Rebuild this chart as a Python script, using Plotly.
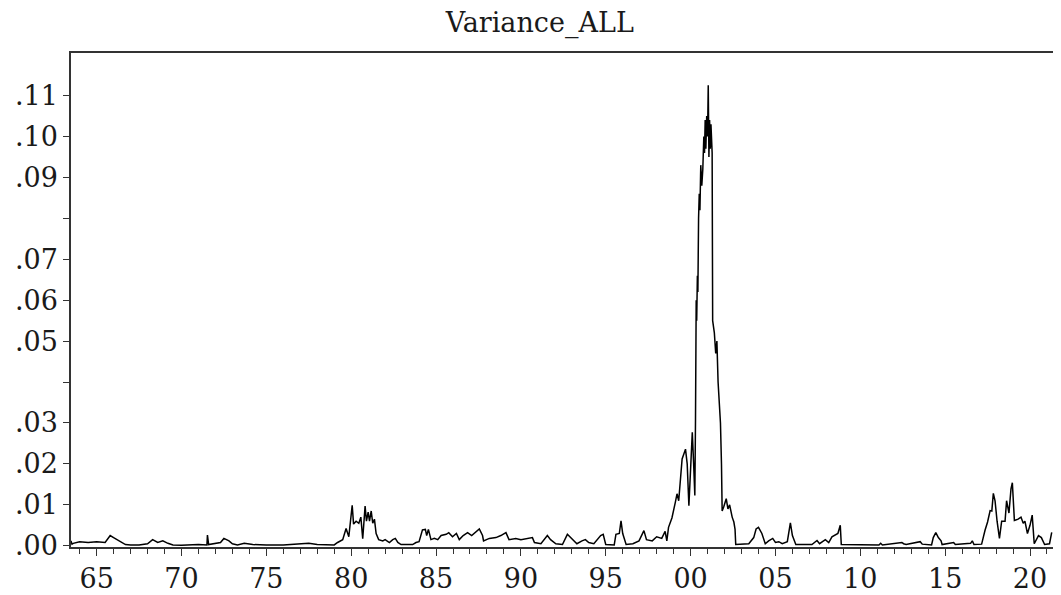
import plotly.graph_objects as go

# Decimal years and variance values
years = [
    1963.49, 1963.55, 1963.62, 1964.0, 1964.5, 1965.0, 1965.5, 1965.8, 1966.0, 1966.3,
    1966.5, 1966.7, 1967.0, 1967.5, 1968.0, 1968.3, 1968.6, 1968.9, 1969.2, 1969.5,
    1970.0, 1971.0, 1971.5, 1971.53, 1971.6, 1972.0, 1972.3, 1972.5, 1972.8, 1973.0,
    1973.3, 1973.7, 1974.2, 1975.0, 1976.0, 1977.06, 1977.5, 1978.0, 1979.0, 1979.2,
    1979.5, 1979.7, 1979.86, 1980.06, 1980.14, 1980.29, 1980.45, 1980.57, 1980.68, 1980.82,
    1980.9, 1981.0, 1981.08, 1981.18, 1981.27, 1981.37, 1981.47, 1981.62, 1981.86, 1982.0,
    1982.25, 1982.45, 1982.6, 1982.75, 1982.94, 1983.62, 1983.82, 1984.0, 1984.2, 1984.37,
    1984.45, 1984.55, 1984.7, 1984.9, 1985.1, 1985.3, 1985.6, 1985.75, 1985.97, 1986.2,
    1986.37, 1986.6, 1986.86, 1987.1, 1987.35, 1987.55, 1987.74, 1987.8, 1988.14, 1988.53,
    1988.82, 1989.12, 1989.3, 1989.7, 1990.0, 1990.3, 1990.68, 1990.8, 1991.18, 1991.56,
    1991.75, 1992.06, 1992.45, 1992.74, 1993.04, 1993.3, 1993.6, 1993.8, 1994.0, 1994.3,
    1994.7, 1994.85, 1995.0, 1995.5, 1995.6, 1995.8, 1995.9, 1996.0, 1996.2, 1996.6,
    1996.96, 1997.25, 1997.4, 1997.74, 1998.0, 1998.3, 1998.5, 1998.6, 1998.7, 1998.9,
    1999.1, 1999.2, 1999.3, 1999.4, 1999.5, 1999.7, 1999.8, 1999.9, 2000.0, 2000.1,
    2000.18, 2000.25, 2000.29, 2000.33, 2000.36, 2000.4, 2000.43, 2000.47, 2000.51, 2000.55,
    2000.6, 2000.66, 2000.72, 2000.78, 2000.82, 2000.86, 2000.9, 2000.95, 2001.0, 2001.04,
    2001.08, 2001.12, 2001.16, 2001.2, 2001.27, 2001.3, 2001.4, 2001.48, 2001.55, 2001.62,
    2001.7, 2001.76, 2001.82, 2001.86, 2001.95, 2002.1, 2002.2, 2002.3, 2002.45, 2002.55,
    2002.62, 2002.66, 2003.43, 2003.72, 2003.86, 2004.0, 2004.2, 2004.3, 2004.4, 2004.6,
    2004.84, 2005.0, 2005.2, 2005.4, 2005.7, 2005.88, 2006.0, 2006.2, 2006.96, 2007.15,
    2007.45, 2007.6, 2007.94, 2008.14, 2008.33, 2008.5, 2008.68, 2008.82, 2008.88, 2011.1,
    2011.2, 2011.3, 2012.45, 2012.55, 2012.7, 2013.53, 2013.65, 2014.2, 2014.3, 2014.45,
    2014.6, 2014.76, 2014.82, 2015.5, 2015.6, 2016.5, 2016.6, 2016.7, 2017.15, 2017.35,
    2017.5, 2017.65, 2017.75, 2017.84, 2017.94, 2018.06, 2018.2, 2018.33, 2018.53, 2018.62,
    2018.76, 2018.88, 2018.96, 2019.08, 2019.3, 2019.47, 2019.6, 2019.7, 2019.85, 2020.0,
    2020.13, 2020.25, 2020.5, 2020.67, 2020.86, 2021.15, 2021.28,
]
variance = [
    0.0012, 0.0004, 0.0006, 0.0010, 0.0008, 0.0010, 0.0008, 0.0025, 0.0020, 0.0012,
    0.0008, 0.0003, 0.0002, 0.0002, 0.0005, 0.0015, 0.0008, 0.0012, 0.0006, 0.0002,
    0.0001, 0.0003, 0.0002, 0.0026, 0.0003, 0.0006, 0.0008, 0.0018, 0.0012, 0.0005,
    0.0002, 0.0006, 0.0003, 0.0002, 0.0002, 0.0005, 0.0006, 0.0003, 0.0002, 0.0008,
    0.0015, 0.0042, 0.0022, 0.0099, 0.0053, 0.0060, 0.0055, 0.0070, 0.0017, 0.0097,
    0.0060, 0.0082, 0.0060, 0.0085, 0.0055, 0.0065, 0.0030, 0.0015, 0.0012, 0.0015,
    0.0008, 0.0015, 0.0018, 0.0008, 0.0003, 0.0003, 0.0008, 0.0010, 0.0039, 0.0040,
    0.0025, 0.0040, 0.0015, 0.0018, 0.0015, 0.0025, 0.0028, 0.0032, 0.0022, 0.0030,
    0.0015, 0.0025, 0.0032, 0.0025, 0.0035, 0.0041, 0.0025, 0.0012, 0.0018, 0.0020,
    0.0025, 0.0032, 0.0015, 0.0018, 0.0015, 0.0018, 0.0020, 0.0008, 0.0005, 0.0025,
    0.0015, 0.0005, 0.0003, 0.0028, 0.0015, 0.0005, 0.0012, 0.0015, 0.0008, 0.0005,
    0.0025, 0.0028, 0.0003, 0.0002, 0.0028, 0.0030, 0.0061, 0.0030, 0.0003, 0.0005,
    0.0012, 0.0037, 0.0015, 0.0012, 0.0022, 0.0018, 0.0035, 0.0012, 0.0045, 0.0068,
    0.0106, 0.0127, 0.0110, 0.0175, 0.0212, 0.0236, 0.0200, 0.0098, 0.0180, 0.0277,
    0.0200, 0.0123, 0.0310, 0.0600, 0.0550, 0.0660, 0.0620, 0.0800, 0.0860, 0.0820,
    0.0930, 0.0880, 0.0920, 0.1000, 0.0960, 0.1040, 0.0970, 0.1050, 0.1000, 0.1125,
    0.0950, 0.1040, 0.0970, 0.1030, 0.0960, 0.0550, 0.0520, 0.0470, 0.0500, 0.0400,
    0.0340, 0.0300, 0.0200, 0.0085, 0.0095, 0.0115, 0.0090, 0.0100, 0.0070, 0.0058,
    0.0040, 0.0003, 0.0005, 0.0020, 0.0041, 0.0045, 0.0030, 0.0015, 0.0005, 0.0012,
    0.0018, 0.0008, 0.0010, 0.0005, 0.0010, 0.0056, 0.0025, 0.0003, 0.0003, 0.0003,
    0.0013, 0.0005, 0.0015, 0.0008, 0.0022, 0.0026, 0.0030, 0.0050, 0.0003, 0.0002,
    0.0006, 0.0002, 0.0008, 0.0005, 0.0003, 0.0010, 0.0004, 0.0002, 0.0020, 0.0032,
    0.0020, 0.0012, 0.0003, 0.0008, 0.0003, 0.0006, 0.0012, 0.0003, 0.0004, 0.0038,
    0.0058, 0.0086, 0.0085, 0.0128, 0.0110, 0.0060, 0.0018, 0.0060, 0.0060, 0.0110,
    0.0080, 0.0139, 0.0154, 0.0062, 0.0065, 0.0070, 0.0055, 0.0060, 0.0030, 0.0050,
    0.0075, 0.0005, 0.0025, 0.0020, 0.0003, 0.0005, 0.0033,
]

x_tickvals = [1965, 1970, 1975, 1980, 1985, 1990, 1995, 2000, 2005, 2010, 2015, 2020]
x_ticktext = ["65", "70", "75", "80", "85", "90", "95", "00", "05", "10", "15", "20"]
y_tickvals = [0.00, 0.01, 0.02, 0.03, 0.04, 0.05, 0.06, 0.07, 0.08, 0.09, 0.10, 0.11]
y_ticktext = [".00", ".01", ".02", ".03", "", ".05", ".06", ".07", "", ".09", ".10", ".11"]

fig = go.Figure()
fig.add_trace(go.Scatter(
    x=years, y=variance, mode="lines",
    line=dict(color="#000000", width=1.5),
    showlegend=False, hoverinfo="skip",
))

axis_font = dict(family="DejaVu Serif", size=27, color="#1a1a1a")

fig.update_layout(
    width=1053, height=587,
    paper_bgcolor="white", plot_bgcolor="white",
    margin=dict(l=63, r=1, t=45, b=47),
    title=dict(text="Variance_ALL", x=0.505, xanchor="center", y=0.975, yanchor="middle",
               font=dict(family="DejaVu Serif", size=27, color="#1a1a1a")),
    xaxis=dict(
        range=[1963.49, 2021.65],
        tickmode="array", tickvals=x_tickvals, ticktext=x_ticktext,
        ticks="outside", ticklen=7, tickwidth=1.3, tickcolor="#333333",
        minor=dict(tickmode="linear", tick0=1965, dtick=1, ticks="outside",
                   ticklen=5, tickwidth=1.1, tickcolor="#333333", showgrid=False),
        showgrid=False, zeroline=False,
        showline=True, linecolor="#333333", linewidth=1.5, mirror=True,
        tickfont=axis_font,
    ),
    yaxis=dict(
        range=[-0.0003, 0.1204],
        tickmode="array", tickvals=y_tickvals, ticktext=y_ticktext,
        ticks="outside", ticklen=6, tickwidth=1.3, tickcolor="#333333",
        showgrid=False, zeroline=False,
        showline=True, linecolor="#333333", linewidth=1.5, mirror=True,
        tickfont=axis_font,
    ),
)

fig.write_html("out.html")
